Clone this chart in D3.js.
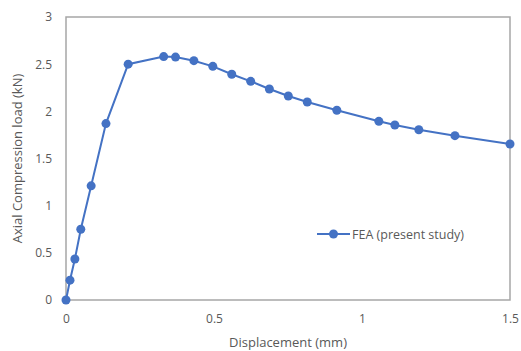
<!DOCTYPE html>
<html>
<head>
<meta charset="utf-8">
<script src="https://cdn.jsdelivr.net/npm/d3@7"></script>
<style>
  body { margin: 0; background: #fff; }
  text { font-family: "Open Sans", sans-serif; fill: #595959; }
</style>
</head>
<body>
<div id="chart"></div>
<script>
// displacement (mm) and load (kN)
var disp = [0, 0.0135, 0.03, 0.05, 0.085, 0.135, 0.21, 0.33, 0.37, 0.432, 0.496, 0.56,
            0.624, 0.687, 0.751, 0.815, 0.915, 1.057, 1.111, 1.192, 1.314, 1.5];
var load = [0, 0.21, 0.435, 0.75, 1.21, 1.87, 2.50, 2.58, 2.575, 2.537, 2.477, 2.393,
            2.318, 2.237, 2.163, 2.099, 2.011, 1.894, 1.855, 1.805, 1.742, 1.654];
var xTicks = [0, 0.5, 1, 1.5];
var yTicks = [0, 0.5, 1, 1.5, 2, 2.5, 3];
var seriesName = "FEA (present study)";

var width = 521, height = 351;
var margin = { left: 66, right: 11, top: 17, bottom: 51 };

var svg = d3.select("#chart")
  .append("svg")
  .attr("width", width)
  .attr("height", height);

var xScale = d3.scaleLinear()
  .domain([0, 1.5])
  .range([margin.left, width - margin.right]);

var yScale = d3.scaleLinear()
  .domain([0, 3])
  .range([height - margin.bottom, margin.top]);

// plot area frame
svg.append("rect")
  .attr("x", xScale(0))
  .attr("y", yScale(3))
  .attr("width", xScale(1.5) - xScale(0))
  .attr("height", yScale(0) - yScale(3))
  .attr("fill", "none")
  .attr("stroke", "#a6a6a6")
  .attr("stroke-width", 1.5);

// axes
var xAxis = d3.axisBottom(xScale)
  .tickValues(xTicks)
  .tickSize(0)
  .tickPadding(14)
  .tickFormat(d3.format(""));

var yAxis = d3.axisLeft(yScale)
  .tickValues(yTicks)
  .tickSize(0)
  .tickPadding(14)
  .tickFormat(d3.format(""));

var gx = svg.append("g")
  .attr("transform", "translate(0," + yScale(0) + ")")
  .call(xAxis);
gx.select(".domain").remove();
gx.selectAll("text").style("font-size", "12px").style("fill", "#595959")
  .style("font-family", "Open Sans, sans-serif");

var gy = svg.append("g")
  .attr("transform", "translate(" + xScale(0) + ",0)")
  .call(yAxis);
gy.select(".domain").remove();
gy.selectAll("text").style("font-size", "12px").style("fill", "#595959")
  .style("font-family", "Open Sans, sans-serif");

// series
var points = disp.map(function (d, i) { return [d, load[i]]; });

var line = d3.line()
  .x(d => xScale(d[0]))
  .y(d => yScale(d[1]));

svg.append("path")
  .datum(points)
  .attr("d", line)
  .attr("fill", "none")
  .attr("stroke", "#4472C4")
  .attr("stroke-width", 2);

svg.selectAll("circle.pt")
  .data(points)
  .enter()
  .append("circle")
  .attr("class", "pt")
  .attr("cx", d => xScale(d[0]))
  .attr("cy", d => yScale(d[1]))
  .attr("r", 4.5)
  .attr("fill", "#4472C4");

// legend
var lg = svg.append("g").attr("transform", "translate(317,234)");
lg.append("line")
  .attr("x1", 0).attr("x2", 33)
  .attr("y1", 0).attr("y2", 0)
  .attr("stroke", "#4472C4")
  .attr("stroke-width", 2);
lg.append("circle")
  .attr("cx", 16.5).attr("cy", 0).attr("r", 4.5)
  .attr("fill", "#4472C4");
lg.append("text")
  .attr("x", 35).attr("y", 4.5)
  .text(seriesName)
  .style("font-size", "12.5px");

// axis titles
svg.append("text")
  .attr("x", (xScale(0) + xScale(1.5)) / 2)
  .attr("y", 347)
  .attr("text-anchor", "middle")
  .text("Displacement (mm)")
  .style("font-size", "13px");

svg.append("text")
  .attr("transform", "translate(22," + (yScale(1.5)) + ") rotate(-90)")
  .attr("text-anchor", "middle")
  .text("Axial Compression load (kN)")
  .style("font-size", "13px");
</script>
</body>
</html>
